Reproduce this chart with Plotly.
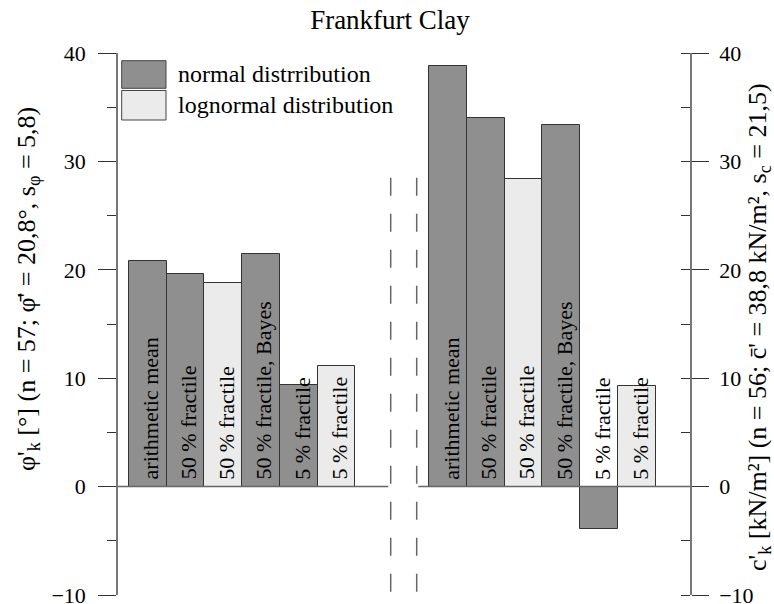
import plotly.graph_objects as go

# ---------------- data ----------------
bar_labels = ["arithmetic mean", "50 % fractile", "50 % fractile",
              "50 % fractile, Bayes", "5 % fractile", "5 % fractile"]
distribution = ["normal", "normal", "lognormal", "normal", "normal", "lognormal"]
phi_values = [20.8, 19.6, 18.8, 21.5, 9.4, 11.1]      # friction angle phi'_k [deg]
c_values = [38.8, 34.0, 28.4, 33.4, -3.9, 9.3]        # cohesion c'_k [kN/m2]
legend_names = {"normal": "normal distrribution", "lognormal": "lognormal distribution"}
y_ticks = [-10, 0, 10, 20, 30, 40]
title_text = "Frankfurt Clay"
left_title = "φ'<sub>k</sub> [°] (n = 57; φ\u0304' = 20,8°, s<sub>φ</sub> = 5,8)"
right_title = "c'<sub>k</sub> [kN/m²] (n = 56; c\u0304' = 38,8 kN/m², s<sub>c</sub> = 21,5)"

# ---------------- layout constants (pixels) ----------------
W, H = 774, 604
L, R, T, B = 118, 690, 53, 595
BW = 37.7                       # bar width in px
XMAX = (R - L) / BW             # x axis in bar-width units
left_start = (129 - L) / BW
right_start = (429.3 - L) / BW
FONT = "Liberation Serif, Times New Roman, serif"
colors = {"normal": "#8f8f8f", "lognormal": "#ebebeb"}

def xp(px):
    return (px - L) / (R - L)

def yp(py):
    return (B - py) / (B - T)

fig = go.Figure()
for start, vals, yaxis in [(left_start, phi_values, "y"), (right_start, c_values, "y2")]:
    xs = [start + 0.5 + i for i in range(len(vals))]
    fig.add_trace(go.Bar(
        x=xs, y=vals, width=1.0, yaxis=yaxis, showlegend=False,
        marker=dict(color=[colors[d] for d in distribution],
                    line=dict(color="#333333", width=1)),
        hoverinfo="y",
    ))
    for x, lab in zip(xs, bar_labels):
        fig.add_annotation(x=x, y=0, xref="x", yref=yaxis, text=lab, textangle=-90,
                           showarrow=False, xanchor="center", yanchor="bottom",
                           yshift=5, xshift=3, font=dict(family=FONT, size=22, color="black"))

shapes = []
# zero lines
shapes.append(dict(type="line", xref="x", yref="y", x0=0, x1=(388.3 - L) / BW, y0=0, y1=0,
                   line=dict(color="#666666", width=1.5)))
shapes.append(dict(type="line", xref="x", yref="y", x0=(418.3 - L) / BW, x1=XMAX, y0=0, y1=0,
                   line=dict(color="#666666", width=1.5)))
# dashed separators
for px in (390.7, 416.7):
    shapes.append(dict(type="line", xref="x", yref="y", x0=(px - L) / BW, x1=(px - L) / BW,
                       y0=28.5, y1=-10, line=dict(color="#666666", width=1.5, dash="18px,18px")))
# legend boxes
for (y0, y1, d) in [(60.7, 88.3, "normal"), (90.5, 120, "lognormal")]:
    shapes.append(dict(type="rect", xref="paper", yref="paper", x0=xp(121.7), x1=xp(166),
                       y0=yp(y1), y1=yp(y0), fillcolor=colors[d],
                       line=dict(color="#444444", width=1)))
    fig.add_annotation(xref="paper", yref="paper", x=xp(176), y=yp((y0 + y1) / 2),
                       text=legend_names[d], showarrow=False, xanchor="left", yanchor="middle",
                       font=dict(family=FONT, size=24, color="black"))

# axis titles
fig.add_annotation(xref="paper", yref="paper", x=xp(28), y=yp(289), text=left_title,
                   textangle=-90, showarrow=False, xanchor="center", yanchor="middle",
                   font=dict(family=FONT, size=26, color="black"))
fig.add_annotation(xref="paper", yref="paper", x=xp(759), y=yp(327), text=right_title,
                   textangle=-90, showarrow=False, xanchor="center", yanchor="middle",
                   font=dict(family=FONT, size=26, color="black"))

axis_common = dict(range=[-10, 40], tickvals=y_ticks, showgrid=False, zeroline=False,
                   showline=True, linecolor="#777777", linewidth=1.5,
                   ticks="outside", tickcolor="#333333", tickwidth=1.2,
                   tickfont=dict(family=FONT, size=22, color="black"),
                   ticklabeloverflow="allow",
                   automargin=False, fixedrange=True)

fig.update_layout(
    width=W, height=H,
    template="none",
    paper_bgcolor="white", plot_bgcolor="white",
    margin=dict(l=L, r=W - R, t=T, b=H - B, pad=0),
    title=dict(text=title_text, x=390 / W, xanchor="center", y=1 - 20 / H, yanchor="middle",
               font=dict(family=FONT, size=27, color="black")),
    xaxis=dict(range=[0, XMAX], visible=False, fixedrange=True),
    yaxis=dict(**axis_common, ticklen=18, ticklabelstandoff=8,
               minor=dict(dtick=5, ticks="outside", ticklen=9, tickcolor="#333333", tickwidth=1.2)),
    yaxis2=dict(**axis_common, overlaying="y", side="right", ticklen=17, ticklabelstandoff=6,
                minor=dict(dtick=5, ticks="inside", ticklen=9, tickcolor="#333333", tickwidth=1.2)),
    shapes=shapes,
    bargap=0, showlegend=False,
)

fig.write_html("out.html", config={"displayModeBar": False},
               post_script="document.body.style.margin='0px';")
